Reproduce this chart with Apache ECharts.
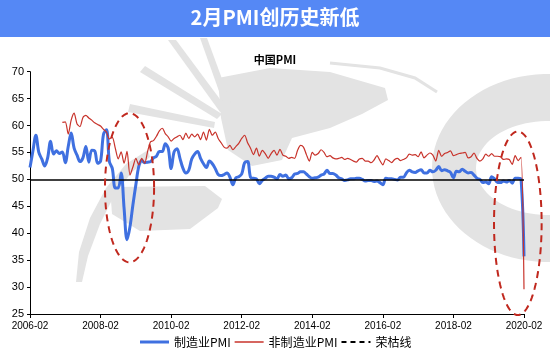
<!DOCTYPE html>
<html><head><meta charset="utf-8">
<script src="https://cdn.jsdelivr.net/npm/echarts@6/dist/echarts.min.js"></script>
<style>html,body{margin:0;padding:0;background:#fff}#c{width:550px;height:357px}</style>
</head><body><div id="c"></div>
<script>
// ---- data ----
const titleText = '2月PMI创历史新低';
const subTitle = '中国PMI';
const seriesNames = ['制造业PMI', '非制造业PMI', '荣枯线'];
const startYear = 2006, startMonth = 2, endYear = 2020, endMonth = 2;
const xTickLabels = ['2006-02','2008-02','2010-02','2012-02','2014-02','2016-02','2018-02','2020-02'];
const yTicks = [25,30,35,40,45,50,55,60,65,70];
const threshold = [50];

// manufacturing PMI, 2006-02 .. 2020-02
const mfg2006 = [52.2,55.3,58.2,55.0,53.8,52.5,54.0,57.1,54.7,55.3,54.8];
const mfg2007 = [55.1,53.1,56.1,58.6,55.8,54.5,53.3,54.0,56.1,53.2,55.4,55.3];
const mfg2008 = [53.0,53.4,58.4,59.2,53.3,52.0,48.4,48.4,51.2,44.6,38.8,41.2];
const mfg2009 = [45.3,49.0,52.4,53.5,53.1,53.2,53.3,54.0,54.3,55.2,55.2,56.6];
const mfg2010 = [55.8,52.0,55.1,55.7,53.9,52.1,51.2,51.7,53.8,54.7,55.2,53.9];
const mfg2011 = [52.9,52.2,53.4,52.9,52.0,50.9,50.7,50.9,51.2,50.4,49.0,50.3];
const mfg2012 = [50.5,51.0,53.1,53.3,50.4,50.2,50.1,49.2,49.8,50.2,50.6,50.6];
const mfg2013 = [50.4,50.1,50.9,50.6,50.8,50.1,50.3,51.0,51.1,51.4,51.4,51.0];
const mfg2014 = [50.5,50.2,50.3,50.4,50.8,51.0,51.7,51.1,51.1,50.8,50.3,50.1];
const mfg2015 = [49.8,49.9,50.1,50.1,50.2,50.2,50.0,49.7,49.8,49.8,49.6,49.7];
const mfg2016 = [49.4,49.0,50.2,50.1,50.1,50.0,49.9,50.4,50.4,51.2,51.7,51.4];
const mfg2017 = [51.3,51.6,51.8,51.2,51.2,51.7,51.4,51.7,52.4,51.6,51.8,51.6];
const mfg2018 = [51.3,50.3,51.5,51.4,51.9,51.5,51.2,51.3,50.8,50.2,50.0,49.4];
const mfg2019 = [49.5,49.2,50.5,50.1,49.4,49.4,49.7,49.5,49.8,49.3,50.2,50.2];
const mfg2020 = [50.0,35.7];

// non-manufacturing PMI, 2006-02 .. 2020-02 (starts 2007-01)
const non2006 = [null,null,null,null,null,null,null,null,null,null,null];
const non2007 = [60.6,60.7,58.4,61.0,62.3,60.3,59.8,61.5,61.9,61.4,61.0,60.5];
const non2008 = [60.2,59.9,59.3,58.8,57.5,57.8,55.8,53.8,55.1,53.0,55.2,50.8];
const non2009 = [52.3,53.9,52.7,53.9,53.0,55.2,57.0,57.2,58.0,59.0,59.5,58.5];
const non2010 = [57.9,57.1,57.6,57.9,58.2,57.4,58.6,57.6,58.4,57.9,58.4,57.4];
const non2011 = [58.8,57.3,59.3,58.2,58.8,57.6,56.8,56.0,55.8,56.3,55.5,56.1];
const non2012 = [56.7,57.6,58.2,56.8,55.8,54.6,55.8,54.3,55.4,54.8,53.9,54.8];
const non2013 = [55.4,54.5,55.6,54.5,54.3,53.9,54.1,53.9,55.4,56.3,56.0,54.6];
const non2014 = [53.4,55.0,54.5,54.8,55.5,55.0,54.2,54.4,54.0,53.8,53.9,54.1];
const non2015 = [53.7,53.9,53.7,53.4,53.2,53.8,53.9,53.4,53.4,53.1,53.6,54.4];
const non2016 = [53.5,52.7,53.8,53.5,53.1,53.7,53.9,53.5,53.7,54.0,54.7,54.5];
const non2017 = [54.6,54.2,55.1,54.0,54.5,54.9,54.5,53.4,55.4,54.3,54.8,55.0];
const non2018 = [55.3,54.4,54.6,54.8,54.9,55.0,54.0,54.2,54.9,53.9,53.4,53.8];
const non2019 = [54.7,54.3,54.8,54.3,54.3,54.2,53.7,53.8,53.7,52.8,54.4,53.5];
const non2020 = [54.1,29.6];

// annotation ellipses (category-index range, value range)
const ellipseCrisis = {x0: 25.5, x1: 42.2, yTop: 62.3, yBottom: 34.6};
const ellipseCovid  = {x0: 157.8, x1: 174.0, yTop: 58.9, yBottom: 24.8};

// ---- build ----
const categories = [];
for (let y = startYear, m = startMonth; y < endYear || (y === endYear && m <= endMonth); ) {
  categories.push(y + '-' + String(m).padStart(2, '0'));
  m++; if (m > 12) { m = 1; y++; }
}
const manufacturing = [].concat(mfg2006,mfg2007,mfg2008,mfg2009,mfg2010,mfg2011,mfg2012,mfg2013,mfg2014,mfg2015,mfg2016,mfg2017,mfg2018,mfg2019,mfg2020);
const nonManufacturing = [].concat(non2006,non2007,non2008,non2009,non2010,non2011,non2012,non2013,non2014,non2015,non2016,non2017,non2018,non2019,non2020);

const BLUE = '#3f70e0', RED = '#c8332b';
const chart = echarts.init(document.getElementById('c'), null, {renderer: 'canvas'});
const labelFont = {fontFamily: 'Liberation Sans, Arial, sans-serif', color: '#000'};
chart.setOption({
  animation: false,
  backgroundColor: '#fff',
  title: [{
    text: subTitle, left: 'center', top: 49,
    textStyle: {fontSize: 11, fontWeight: 'bold', color: '#000', fontFamily: 'Noto Sans CJK SC'}
  }],
  grid: {left: 30, right: 26, top: 71.7, bottom: 43, containLabel: false},
  xAxis: {
    type: 'category', data: categories, boundaryGap: false,
    axisLine: {lineStyle: {color: '#000', width: 1}},
    axisTick: {interval: (i, v) => xTickLabels.includes(v), length: 4, lineStyle: {color: '#000'}},
    axisLabel: Object.assign({interval: (i, v) => xTickLabels.includes(v), fontSize: 10, margin: 7}, labelFont),
    splitLine: {show: false}
  },
  yAxis: {
    type: 'value', min: yTicks[0], max: yTicks[yTicks.length - 1], interval: 5,
    axisLine: {show: true, lineStyle: {color: '#000', width: 1}},
    axisTick: {show: true, length: 3, lineStyle: {color: '#000'}},
    axisLabel: Object.assign({fontSize: 11, margin: 6}, labelFont),
    splitLine: {show: false}
  },
  legend: {
    bottom: 4, left: 'center', itemGap: 3, itemWidth: 29, itemHeight: 8,
    textStyle: {fontSize: 12, color: '#000', fontFamily: 'Noto Sans CJK SC'},
    itemStyle: {opacity: 0},
    data: [
      {name: seriesNames[0], lineStyle: {width: 3}},
      {name: seriesNames[1], lineStyle: {width: 1.5}},
      {name: seriesNames[2], lineStyle: {width: 2, type: [5, 4]}}
    ]
  },
  series: [
    {
      name: seriesNames[0], type: 'line', data: manufacturing, showSymbol: false, symbol: 'none',
      smooth: 0.35, z: 3,
      lineStyle: {color: BLUE, width: 3}, itemStyle: {color: BLUE}
    },
    {
      name: seriesNames[1], type: 'line', data: nonManufacturing, showSymbol: false, symbol: 'none',
      smooth: 0.25, z: 4, connectNulls: false,
      lineStyle: {color: RED, width: 1.2}, itemStyle: {color: RED}
    },
    {
      name: seriesNames[2], type: 'line', data: [], showSymbol: false, symbol: 'none', z: 5,
      lineStyle: {color: '#000', width: 2, type: 'dashed'}, itemStyle: {color: '#000'},
      markLine: {
        silent: true, symbol: 'none', label: {show: false},
        lineStyle: {color: '#000', width: 1.5, type: 'solid'},
        data: [{yAxis: threshold[0]}]
      }
    }
  ]
});

function ellipsePoints(e) {
  const pA = chart.convertToPixel({xAxisIndex: 0}, 0);
  const pB = chart.convertToPixel({xAxisIndex: 0}, categories.length - 1);
  const step = (pB - pA) / (categories.length - 1);
  const left = pA + e.x0 * step, right = pA + e.x1 * step;
  const top = chart.convertToPixel({yAxisIndex: 0}, e.yTop);
  const bottom = chart.convertToPixel({yAxisIndex: 0}, e.yBottom);
  const cx = (left + right) / 2, cy = (top + bottom) / 2, rx = (right - left) / 2, ry = (bottom - top) / 2;
  const pts = [];
  for (let k = 0; k < 120; k++) {
    const a = k / 120 * Math.PI * 2;
    pts.push([cx + rx * Math.cos(a), cy + ry * Math.sin(a)]);
  }
  return pts;
}
function ellipseRing(cx, cy, rxo, ryo, rxi, ryi) {
  const pts = [];
  for (let k = 0; k <= 90; k++) { const a = k / 90 * Math.PI * 2; pts.push([cx + rxo * Math.cos(a), cy + ryo * Math.sin(a)]); }
  for (let k = 90; k >= 0; k--) { const a = k / 90 * Math.PI * 2; pts.push([cx + rxi * Math.cos(a), cy + ryi * Math.sin(a)]); }
  return pts;
}
const WM = '#e3e3e3';
const dashStyle = {fill: null, stroke: '#c0281e', lineWidth: 2, lineDash: [7, 5]};
chart.setOption({
  graphic: [
    // watermark (background decoration)
    {type: 'polygon', z: -10, silent: true, shape: {points: ellipseRing(548, 168, 116, 94, 72, 47)}, style: {fill: WM}},
    {type: 'polygon', z: -10, silent: true, shape: {points: [[76,282],[79,252],[90,218],[106,188],[126,164],[148,150],[150,157],[131,173],[114,196],[100,224],[88,256],[82,282]]}, style: {fill: WM}},
    {type: 'polygon', z: -10, silent: true, shape: {points: [[110,187],[205,186],[222,199],[218,208],[190,229],[140,231],[112,214]]}, style: {fill: WM}},
    {type: 'polygon', z: -10, silent: true, shape: {points: [[218,78],[270,68],[330,72],[385,88],[388,100],[362,114],[330,128],[292,138],[282,160],[252,166],[228,150],[221,118]]}, style: {fill: WM}},
    {type: 'polyline', z: -10, silent: true, shape: {points: [[330,63],[380,68],[415,78],[437,92]]}, style: {stroke: WM, lineWidth: 3, fill: null}},
    {type: 'polygon', z: -10, silent: true, shape: {points: [[168,40],[176,40],[228,110],[220,112]]}, style: {fill: WM}},
    {type: 'polygon', z: -10, silent: true, shape: {points: [[200,38],[207,38],[232,106],[225,108]]}, style: {fill: WM}},
    {type: 'polygon', z: -10, silent: true, shape: {points: [[140,72],[145,66],[222,114],[217,119]]}, style: {fill: WM}},
    {type: 'polygon', z: -10, silent: true, shape: {points: [[128,112],[130,104],[215,122],[214,128]]}, style: {fill: WM}},
    // title bar
    {type: 'rect', left: 0, top: 0, shape: {width: 550, height: 37}, style: {fill: '#5588f5'}, z: 10},
    {type: 'text', left: 'center', top: 7, z: 11,
     style: {text: titleText, fill: '#fff', font: 'bold 20px "Noto Sans CJK SC"'}},
    // annotation ellipses
    {type: 'polygon', shape: {points: ellipsePoints(ellipseCrisis)}, style: dashStyle, z: 20, silent: true},
    {type: 'polygon', shape: {points: ellipsePoints(ellipseCovid)}, style: dashStyle, z: 20, silent: true}
  ]
});
</script></body></html>
